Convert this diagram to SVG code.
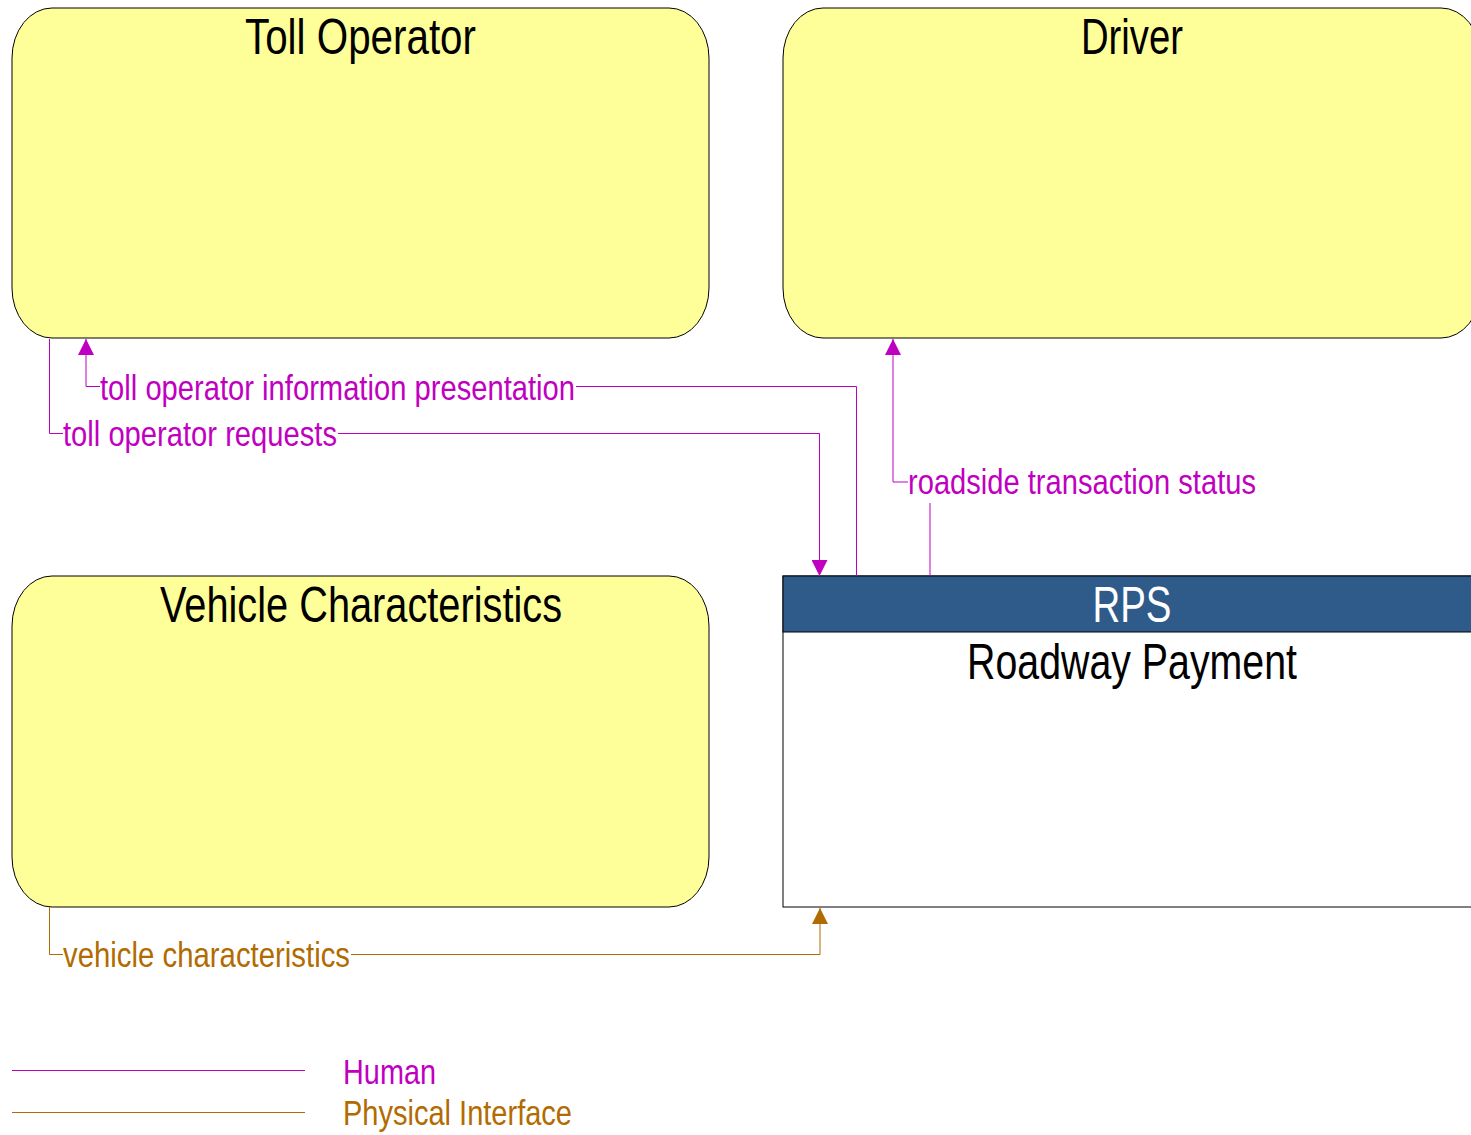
<svg xmlns="http://www.w3.org/2000/svg" width="1471" height="1135" viewBox="0 0 1471 1135">
<style>
.ext{fill:#FFFF99;stroke:#000;stroke-width:1}
.title{font-family:'Liberation Sans Narrow','Liberation Sans',Arial,sans-serif;font-size:50px;fill:#000;text-anchor:middle}
.lbl{font-family:'Liberation Sans Narrow','Liberation Sans',Arial,sans-serif;font-size:35px}
.hum{stroke:#C000C0;stroke-width:1;fill:none}
.phy{stroke:#B26B00;stroke-width:1;fill:none}
.humt{fill:#C000C0}
.phyt{fill:#B26B00}
</style>
<defs>
<marker id="ah" viewBox="0 0 16 16" refX="16" refY="8" markerWidth="16" markerHeight="16" markerUnits="userSpaceOnUse" orient="auto">
<path d="M0,0 L16,8 L0,16 Z" fill="#C000C0"/>
</marker>
<marker id="ap" viewBox="0 0 16 16" refX="16" refY="8" markerWidth="16" markerHeight="16" markerUnits="userSpaceOnUse" orient="auto">
<path d="M0,0 L16,8 L0,16 Z" fill="#B26B00"/>
</marker>
</defs>
<g id="toll-operator">
<rect class="ext" x="12" y="8" width="697" height="330" rx="40" ry="50"/>
<text class="title" x="360.5" y="54" textLength="231" lengthAdjust="spacingAndGlyphs">Toll Operator</text>
</g>
<g id="driver">
<rect class="ext" x="783" y="8" width="698" height="330" rx="40" ry="50"/>
<text class="title" x="1132" y="54" textLength="102" lengthAdjust="spacingAndGlyphs">Driver</text>
</g>
<g id="vehicle-characteristics">
<rect class="ext" x="12" y="576" width="697" height="331" rx="40" ry="50"/>
<text class="title" x="361" y="622" textLength="402" lengthAdjust="spacingAndGlyphs">Vehicle Characteristics</text>
</g>
<g id="rps">
<rect x="783" y="576" width="698" height="331" fill="#FFFFFF" stroke="#000" stroke-width="1"/>
<rect x="783" y="576" width="698" height="56" fill="#2E5B8A" stroke="#000" stroke-width="1"/>
<text class="title" x="1132" y="622" style="fill:#fff" textLength="79" lengthAdjust="spacingAndGlyphs">RPS</text>
<text class="title" x="1132" y="679" textLength="330" lengthAdjust="spacingAndGlyphs">Roadway Payment</text>
</g>
<g id="connectors">
<path class="hum" d="M856.5,576 V386.5 H576"/>
<path class="hum" d="M100,386.5 H86 V339" marker-end="url(#ah)"/>
<text class="lbl humt" x="100" y="400" textLength="475" lengthAdjust="spacingAndGlyphs">toll operator information presentation</text>
<path class="hum" d="M49.5,339 V433.5 H63"/>
<path class="hum" d="M338,433.5 H819.5 V576" marker-end="url(#ah)"/>
<text class="lbl humt" x="63" y="446" textLength="274" lengthAdjust="spacingAndGlyphs">toll operator requests</text>
<path class="hum" d="M930,576 V503"/>
<path class="hum" d="M908,482 H893 V339" marker-end="url(#ah)"/>
<text class="lbl humt" x="908" y="494" textLength="348" lengthAdjust="spacingAndGlyphs">roadside transaction status</text>
<path class="phy" d="M49.5,907 V954.5 H63"/>
<path class="phy" d="M351,954.5 H820 V908" marker-end="url(#ap)"/>
<text class="lbl phyt" x="63" y="967" textLength="287" lengthAdjust="spacingAndGlyphs">vehicle characteristics</text>
</g>
<g id="legend">
<line class="hum" x1="12" y1="1070.5" x2="305" y2="1070.5"/>
<text class="lbl humt" x="343" y="1084" textLength="93" lengthAdjust="spacingAndGlyphs">Human</text>
<line class="phy" x1="12" y1="1112.5" x2="305" y2="1112.5"/>
<text class="lbl phyt" x="343" y="1125" textLength="229" lengthAdjust="spacingAndGlyphs">Physical Interface</text>
</g>
</svg>
